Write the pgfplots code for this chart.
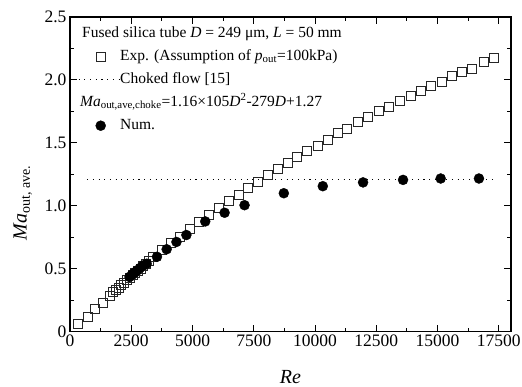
\documentclass[border=0pt]{standalone}
\usepackage{fontspec}
\setmainfont{Liberation Serif}
\usepackage{pgfplots}
\pgfplotsset{compat=1.18}
\pgfplotsset{
  markleg/.style={legend image code/.code={\draw[##1] plot coordinates {(22bp,0)};}},
  lineleg/.style={legend image code/.code={\draw[##1] (0bp,0) -- (40bp,0);}},
}
\begin{document}
\begin{tikzpicture}
\useasboundingbox (-70bp,-55.3bp) rectangle (452bp,331.7bp);
\begin{axis}[
  scale only axis, width=441bp, height=314.7bp,
  at={(0,0)}, anchor=south west,
  xmin=0, xmax=18000, ymin=0, ymax=2.5,
  xtick={0,2500,5000,7500,10000,12500,15000,17500}, minor x tick num=1,
  ytick={0,0.5,1,1.5,2,2.5}, yticklabels={0,0.5,1.0,1.5,2.0,2.5}, minor y tick num=1,
  scaled x ticks=false,
  xticklabel style={/pgf/number format/1000 sep={}},
  /pgf/number format/assume math mode=true,
  tick align=inside,
  major tick length=7bp, minor tick length=4bp,
  axis line style={line width=1.1bp},
  every tick/.style={black, line width=0.9bp},
  tick label style={font=\fontsize{17.5bp}{20bp}\selectfont},
  xlabel={\textit{Re}}, ylabel={\textit{Ma}\textsubscript{out, ave.}},
  label style={font=\fontsize{20bp}{22bp}\selectfont},
  xlabel style={at={(axis description cs:0.5,-0.143)}, anchor=center},
  ylabel style={at={(axis description cs:-0.107,0.41)}, anchor=center},
  legend style={draw=none, fill=none, at={(rel axis cs:0,1)}, anchor=north west,
    xshift=8bp, yshift=-8bp, inner sep=0pt, row sep=6bp,
    nodes={inner sep=1bp, text height=11bp, text depth=4bp},
    font=\fontsize{15.5bp}{18bp}\selectfont},
  legend cell align=left,
]
\addlegendimage{empty legend}
\addlegendentry{\hspace{-38bp}Fused silica tube \textit{D} = 249 μm, \textit{L} = 50 mm}

\addplot[only marks, mark=square, mark size=4.5bp, mark options={draw=black!85, line width=0.9bp, fill=white}, markleg]
coordinates {
(339,0.063) (715,0.118) (1020,0.178) (1345,0.230) (1631,0.287) (1767,0.312)
(1880,0.333) (1990,0.350) (2100,0.370) (2200,0.388) (2330,0.410) (2450,0.430)
(2560,0.448) (2670,0.467) (2780,0.485) (2880,0.502) (2990,0.520) (3100,0.540)
(3220,0.560) (3373,0.595) (3740,0.648) (4107,0.702) (4486,0.754) (4894,0.815)
(5273,0.873) (5681,0.926) (6077,0.984) (6485,1.037) (6892,1.090) (7276,1.143)
(7670,1.190) (8075,1.248) (8470,1.293) (8880,1.341) (9280,1.392) (9677,1.434)
(10126,1.476) (10534,1.527) (10942,1.575) (11323,1.614) (11758,1.664) (12166,1.706)
(12613,1.752) (13021,1.786) (13458,1.831) (13934,1.873) (14342,1.913) (14750,1.952)
(15184,1.987) (15592,2.029) (15987,2.063) (16422,2.090) (16896,2.143) (17304,2.178)
};
\addlegendentry{Exp. (Assumption of \textit{p}\textsubscript{out}=100kPa)}

\addplot[black, line width=1bp, dash pattern=on 1.1bp off 4.6bp, lineleg]
coordinates {(700,1.21) (17300,1.21)};
\addlegendentry{Choked flow [15]}

\addlegendimage{empty legend}
\addlegendentry{\hspace{-40bp}\textit{Ma}\textsubscript{out,ave,choke}=1.16×105\textit{D}\textsuperscript{2}-279\textit{D}+1.27}

\addplot[only marks, mark=*, mark size=5bp, mark options={draw=black, fill=black}, markleg]
coordinates {
(2430,0.435) (2530,0.452) (2630,0.468) (2730,0.485) (2850,0.505) (2980,0.525)
(3130,0.540) (3550,0.595) (3945,0.655) (4345,0.713) (4750,0.768) (5520,0.876)
(6310,0.945) (7124,1.005) (8727,1.100) (10318,1.156) (11962,1.186) (13594,1.206)
(15130,1.217) (16692,1.217)
};
\addlegendentry{Num.}
\end{axis}
\end{tikzpicture}
\end{document}
